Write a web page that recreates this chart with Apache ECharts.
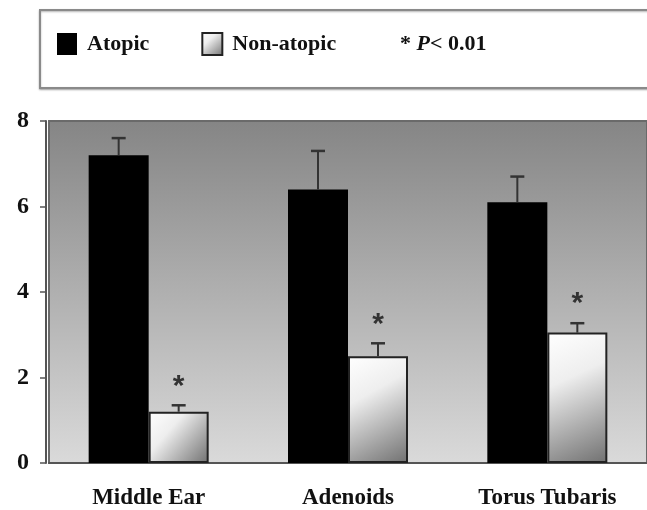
<!DOCTYPE html>
<html>
<head>
<meta charset="utf-8">
<script src="https://cdn.jsdelivr.net/npm/echarts@6/dist/echarts.min.js"></script>
<style>html,body{margin:0;padding:0;background:#fff}#c{width:647px;height:510px}</style>
</head>
<body>
<div id="c"></div>
<script>
var categories = ['Middle Ear', 'Adenoids', 'Torus Tubaris'];
var atopic = [7.2, 6.4, 6.1];
var atopicErr = [0.4, 0.9, 0.6];
var nonAtopic = [1.2, 2.5, 3.05];
var nonAtopicErr = [0.15, 0.3, 0.22];
var significant = [true, true, true];
var yTicks = [0, 2, 4, 6, 8];

var chart = echarts.init(document.getElementById('c'), null, {renderer: 'canvas'});
var serif = '"Liberation Serif", "Times New Roman", serif';

function errSeries(vals, errs, offset, withStar) {
  return {
    type: 'custom',
    z: 5,
    silent: true,
    data: vals.map(function (v, i) { return [i, v, v + errs[i], withStar && significant[i] ? 1 : 0]; }),
    renderItem: function (params, api) {
      var i = api.value(0);
      var base = api.coord([i, api.value(1)]);
      var top = api.coord([i, api.value(2)]);
      var x = base[0] + offset;
      var children = [
        {type: 'line', shape: {x1: x, y1: base[1], x2: x, y2: top[1]}, style: {stroke: '#333', lineWidth: 2}},
        {type: 'line', shape: {x1: x - 7, y1: top[1], x2: x + 7, y2: top[1]}, style: {stroke: '#333', lineWidth: 2.5}}
      ];
      if (api.value(3)) {
        children.push({type: 'text', style: {text: '*', x: x, y: top[1] - 4, align: 'center', verticalAlign: 'bottom',
          font: 'bold 30px "Liberation Sans", Arial, sans-serif', fill: '#333'}});
      }
      return {type: 'group', children: children};
    }
  };
}

chart.setOption({
  animation: false,
  backgroundColor: '#fff',
  graphic: [
    {type: 'rect', z: -1, shape: {x: 40, y: 10, width: 640, height: 78},
      style: {fill: '#fff', stroke: '#8a8a8a', lineWidth: 2, shadowColor: 'rgba(0,0,0,0.3)', shadowBlur: 2, shadowOffsetY: 1}},
    {type: 'text', z: 10, style: {x: 400, y: 44, verticalAlign: 'middle',
      text: '{a|* }{b|P}{a|< 0.01}',
      rich: {
        a: {font: 'bold 22px ' + serif, fill: '#111'},
        b: {font: 'italic bold 22px ' + serif, fill: '#111'}
      }}}
  ],
  legend: {
    left: 52, top: 27,
    itemWidth: 20, itemHeight: 22,
    itemGap: 52,
    selectedMode: false,
    textStyle: {fontFamily: serif, fontWeight: 'bold', fontSize: 22, color: '#111', padding: [0, 0, 0, 5]},
    data: [{name: 'Atopic', icon: 'rect'}, {name: 'Non-atopic', icon: 'rect'}]
  },
  grid: {
    left: 49, top: 121, bottom: 47, width: 604,
    show: true,
    borderWidth: 2, borderColor: '#6a6a6a',
    backgroundColor: {type: 'linear', x: 0, y: 0, x2: 0, y2: 1,
      colorStops: [{offset: 0, color: '#858585'}, {offset: 1, color: '#dadada'}]}
  },
  xAxis: {
    type: 'category',
    data: categories,
    axisLine: {show: true, lineStyle: {color: '#555', width: 2}},
    axisTick: {show: false},
    axisLabel: {margin: 24, fontFamily: serif, fontWeight: 'bold', fontSize: 23, color: '#111'},
    splitLine: {show: false}
  },
  yAxis: {
    type: 'value',
    min: 0, max: 8, interval: 2,
    offset: 3,
    axisLine: {show: true, lineStyle: {color: '#555', width: 2}},
    axisTick: {show: true, length: 6, lineStyle: {color: '#555', width: 1.5}},
    axisLabel: {margin: 17, fontFamily: serif, fontWeight: 'bold', fontSize: 24, color: '#111',
      formatter: function (v) { return yTicks.indexOf(v) >= 0 ? String(v) : ''; }},
    splitLine: {show: false}
  },
  series: [
    {
      name: 'Atopic', type: 'bar', data: atopic, barWidth: 60, barGap: '0%',
      itemStyle: {color: '#000', borderColor: '#000', borderWidth: 0}
    },
    {
      name: 'Non-atopic', type: 'bar', data: nonAtopic, barWidth: 60,
      itemStyle: {
        color: {type: 'linear', x: 0, y: 0, x2: 1, y2: 1,
          colorStops: [{offset: 0, color: '#ffffff'}, {offset: 0.35, color: '#eeeeee'}, {offset: 1, color: '#707070'}]},
        borderColor: '#222', borderWidth: 2
      }
    },
    errSeries(atopic, atopicErr, -30, false),
    errSeries(nonAtopic, nonAtopicErr, 30, true)
  ]
});
</script>
</body>
</html>
